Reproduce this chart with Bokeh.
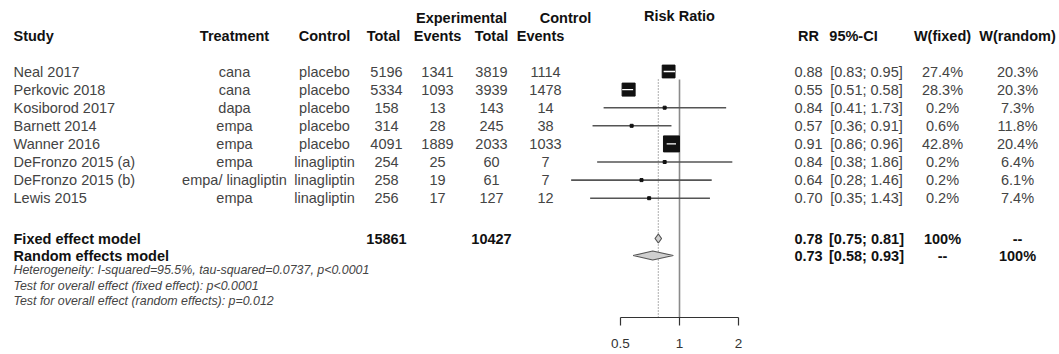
import math
from bokeh.plotting import figure
from bokeh.models import Range1d, LogScale, LogAxis, FixedTicker, NumeralTickFormatter
from bokeh.core.properties import value
from bokeh.embed import file_html
from bokeh.resources import INLINE

# ---------------- data ----------------
studies = ["Neal 2017", "Perkovic 2018", "Kosiborod 2017", "Barnett 2014", "Wanner 2016",
           "DeFronzo 2015 (a)", "DeFronzo 2015 (b)", "Lewis 2015"]
treatment = ["cana", "cana", "dapa", "empa", "empa", "empa", "empa/ linagliptin", "empa"]
control = ["placebo", "placebo", "placebo", "placebo", "placebo", "linagliptin", "linagliptin", "linagliptin"]
exp_total = [5196, 5334, 158, 314, 4091, 254, 258, 256]
exp_events = [1341, 1093, 13, 28, 1889, 25, 19, 17]
ctrl_total = [3819, 3939, 143, 245, 2033, 60, 61, 127]
ctrl_events = [1114, 1478, 14, 38, 1033, 7, 7, 12]
rr = [0.88, 0.55, 0.84, 0.57, 0.91, 0.84, 0.64, 0.70]
rr_lower = [0.83, 0.51, 0.41, 0.36, 0.86, 0.38, 0.28, 0.35]
rr_upper = [0.95, 0.58, 1.73, 0.91, 0.96, 1.86, 1.46, 1.43]
w_fixed = [27.4, 28.3, 0.2, 0.6, 42.8, 0.2, 0.2, 0.2]
w_random = [20.3, 20.3, 7.3, 11.8, 20.4, 6.4, 6.1, 7.4]

fixed_total_exp = 15861
fixed_total_ctrl = 10427
fixed_rr, fixed_lower, fixed_upper = 0.78, 0.75, 0.81
random_rr, random_lower, random_upper = 0.73, 0.58, 0.93
heterogeneity = "Heterogeneity: I-squared=95.5%, tau-squared=0.0737, p<0.0001"
test_fixed = "Test for overall effect (fixed effect):  p<0.0001"
test_random = "Test for overall effect (random effects):  p=0.012"
axis_ticks = [0.5, 1, 2]

# ---------------- layout ----------------
FONT = value("Liberation Sans")
FS = "14.5px"
FS_SMALL = "12.4px"
TXT = "#444444"
BLK = "#111111"

X_ONE = 679.0      # screen x of RR = 1
PX_DBL = 59.0      # pixels per doubling
LEFT, RIGHT, TOP, BOTTOM = 0, 1059, 0, 317

p = figure(frame_width=RIGHT - LEFT, frame_height=BOTTOM - TOP,
           x_range=Range1d(LEFT, RIGHT), y_range=Range1d(BOTTOM, TOP),
           output_backend="svg", toolbar_location=None,
           x_axis_location=None, y_axis_location=None, min_border=0)
p.outline_line_color = None
p.grid.visible = False
p.background_fill_color = "white"
p.border_fill_color = "white"
p.extra_x_ranges = {"rr": Range1d(2 ** ((LEFT - X_ONE) / PX_DBL), 2 ** ((RIGHT - X_ONE) / PX_DBL))}
p.extra_x_scales = {"rr": LogScale()}

row_y = [71 + 18.1 * i for i in range(len(studies))]
y_h1, y_h2 = 17, 35
y_fixed, y_random = 238, 255
y_het, y_tf, y_tr = 269, 285, 300


def txt(x, y, s, align="center", bold=False, italic=False, size=FS, color=None, rng=None):
    style = "bold" if bold else "normal"
    if italic:
        style = "bold italic" if bold else "italic"
    kw = {}
    if rng:
        kw["x_range_name"] = rng
    if not isinstance(s, list):
        x, y, s = [x], [y], [s]
    p.text(x=x, y=y, text=s, text_align=align, text_baseline="middle",
           text_font=FONT, text_font_size=size, text_font_style=style,
           text_color=color or (BLK if bold else TXT), **kw)


n = len(studies)
# column positions (screen x)
c_study, c_treat, c_ctrl = 13, 234, 324
c_et, c_ee, c_ct, c_ce = 386, 437, 491, 545
c_rr, c_ci, c_wf, c_wr = 808, 866, 942, 1017

# headers
txt(461, y_h1, "Experimental", bold=True)
txt(565, y_h1, "Control", bold=True)
txt(1, 15, "Risk Ratio", bold=True, rng="rr")
txt(c_study, y_h2, "Study", align="left", bold=True)
txt(c_treat, y_h2, "Treatment", bold=True)
txt(c_ctrl, y_h2, "Control", bold=True)
txt(383, y_h2, "Total", bold=True)
txt(c_ee, y_h2, "Events", bold=True)
txt(c_ct, y_h2, "Total", bold=True)
txt(540, y_h2, "Events", bold=True)
txt(c_rr, y_h2, "RR", bold=True)
txt(853, y_h2, "95%-CI", bold=True)
txt(c_wf, y_h2, "W(fixed)", bold=True)
txt(c_wr, y_h2, "W(random)", bold=True)

# study rows
txt([c_study] * n, row_y, studies, align="left")
txt([c_treat] * n, row_y, treatment)
txt([c_ctrl] * n, row_y, control)
txt([c_et] * n, row_y, [str(v) for v in exp_total])
txt([c_ee] * n, row_y, [str(v) for v in exp_events])
txt([c_ct] * n, row_y, [str(v) for v in ctrl_total])
txt([c_ce] * n, row_y, [str(v) for v in ctrl_events])
txt([c_rr] * n, row_y, ["%.2f" % v for v in rr])
txt([c_ci] * n, row_y, ["[%.2f; %.2f]" % (a, b) for a, b in zip(rr_lower, rr_upper)])
txt([c_wf] * n, row_y, ["%.1f%%" % v for v in w_fixed])
txt([c_wr] * n, row_y, ["%.1f%%" % v for v in w_random])

# summary rows
txt(c_study, y_fixed, "Fixed effect model", align="left", bold=True)
txt(c_study, y_random, "Random effects model", align="left", bold=True)
txt(c_et, y_fixed, str(fixed_total_exp), bold=True)
txt(c_ct, y_fixed, str(fixed_total_ctrl), bold=True)
txt(c_rr, y_fixed, "%.2f" % fixed_rr, bold=True)
txt(c_ci, y_fixed, "[%.2f; %.2f]" % (fixed_lower, fixed_upper), bold=True)
txt(c_wf, y_fixed, "100%", bold=True)
txt(c_wr, y_fixed, "--", bold=True)
txt(c_rr, y_random, "%.2f" % random_rr, bold=True)
txt(c_ci, y_random, "[%.2f; %.2f]" % (random_lower, random_upper), bold=True)
txt(c_wf, y_random, "--", bold=True)
txt(c_wr, y_random, "100%", bold=True)

txt(c_study, y_het, heterogeneity, align="left", italic=True, size=FS_SMALL)
txt(c_study, y_tf, test_fixed, align="left", italic=True, size=FS_SMALL)
txt(c_study, y_tr, test_random, align="left", italic=True, size=FS_SMALL)

# ---------------- forest ----------------
p.segment(x0=[1], x1=[1], y0=[79], y1=[BOTTOM], x_range_name="rr",
          line_color="#8a8a8a", line_width=1.6)
p.segment(x0=[fixed_rr], x1=[fixed_rr], y0=[79], y1=[BOTTOM], x_range_name="rr",
          line_color="#7a7a7a", line_width=1.2, line_dash="1 2")

max_w = max(w_fixed)
sizes = [max(3.0, 16.0 * math.sqrt(w / max_w)) for w in w_fixed]
inside = [PX_DBL * math.log2(u / l) < s for l, u, s in zip(rr_lower, rr_upper, sizes)]

p.segment(x0=rr_lower, x1=rr_upper, y0=row_y, y1=row_y, x_range_name="rr",
          line_color="#555555", line_width=1.6)
p.scatter(x=rr, y=row_y, size=sizes, marker="square", x_range_name="rr",
          fill_color="#111111", line_color="#111111")
wl = [l for l, k in zip(rr_lower, inside) if k]
wu = [u for u, k in zip(rr_upper, inside) if k]
wy = [y for y, k in zip(row_y, inside) if k]
p.segment(x0=wl, x1=wu, y0=wy, y1=wy, x_range_name="rr", line_color="white", line_width=1.3)

# diamonds
hh = 4.5
p.patches(xs=[[fixed_lower, fixed_rr, fixed_upper, fixed_rr],
              [random_lower, random_rr, random_upper, random_rr]],
          ys=[[y_fixed, y_fixed - hh, y_fixed, y_fixed + hh],
              [y_random, y_random - hh, y_random, y_random + hh]],
          x_range_name="rr", fill_color="#cfcfcf", line_color="#555555", line_width=1.2)

# x axis of the forest
ax = LogAxis(x_range_name="rr", bounds=(min(axis_ticks), max(axis_ticks)),
             ticker=FixedTicker(ticks=axis_ticks, minor_ticks=[]),
             formatter=NumeralTickFormatter(format="0.[0]"))
ax.axis_line_color = "#333333"
ax.axis_line_width = 1.2
ax.major_tick_line_color = "#333333"
ax.major_tick_line_width = 1.2
ax.major_tick_out = 8
ax.major_tick_in = 0
ax.minor_tick_out = 0
ax.minor_tick_in = 0
ax.major_label_standoff = 13
ax.major_label_text_font = "Liberation Sans"
ax.major_label_text_font_size = "13.5px"
ax.major_label_text_color = "#333333"
p.add_layout(ax, "below")

open("out.html", "w").write(file_html(p, INLINE))
